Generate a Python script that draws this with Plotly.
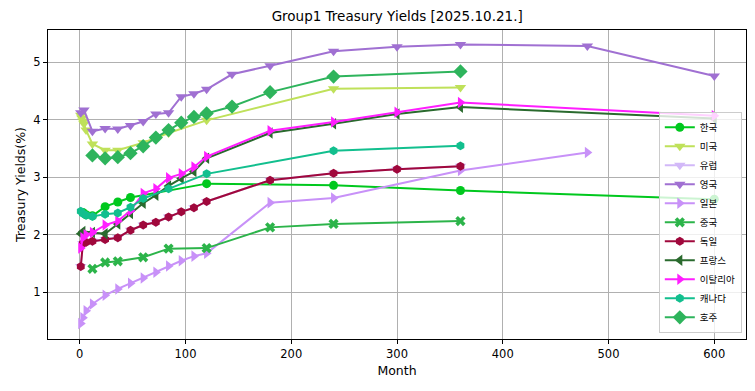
import plotly.graph_objects as go

# ---- data ----
kr_m = [3, 6, 12, 24, 36, 48, 120, 240, 360, 600]
kr_y = [2.39, 2.35, 2.33, 2.49, 2.57, 2.65, 2.89, 2.86, 2.77, 2.62]

us_m = [1, 2, 3, 4, 6, 12, 24, 36, 60, 84, 120, 240, 360]
us_y = [4.08, 4.03, 3.98, 3.93, 3.82, 3.58, 3.47, 3.47, 3.60, 3.77, 3.99, 4.54, 4.56]

de_m = [1, 3, 6, 12, 24, 36, 48, 60, 72, 84, 96, 108, 120, 180, 240, 300, 360]
de_y = [1.45, 1.85, 1.87, 1.89, 1.92, 1.95, 2.08, 2.17, 2.22, 2.31, 2.40, 2.47, 2.58, 2.95, 3.07, 3.14, 3.19]

eu_m = list(de_m)
eu_y = list(de_y)

uk_m = [1, 4, 12, 24, 36, 48, 60, 72, 84, 96, 108, 120, 144, 180, 240, 300, 360, 480, 600]
uk_y = [4.12, 4.17, 3.80, 3.85, 3.84, 3.90, 3.97, 4.10, 4.12, 4.40, 4.45, 4.53, 4.79, 4.94, 5.19, 5.27, 5.31, 5.28, 4.76]

jp_m = [1, 3, 6, 12, 24, 36, 48, 60, 72, 84, 96, 108, 120, 180, 240, 360, 480]
jp_y = [0.46, 0.56, 0.68, 0.80, 0.95, 1.06, 1.16, 1.25, 1.35, 1.46, 1.55, 1.63, 1.68, 2.56, 2.64, 3.12, 3.43]

cn_m = [12, 24, 36, 60, 84, 120, 180, 240, 360]
cn_y = [1.41, 1.52, 1.54, 1.61, 1.76, 1.77, 2.13, 2.19, 2.24]

fr_m = [1, 3, 12, 24, 36, 48, 60, 72, 84, 96, 108, 120, 180, 240, 300, 360, 600]
fr_y = [2.02, 2.06, 2.04, 2.02, 2.19, 2.37, 2.55, 2.69, 2.85, 2.98, 3.10, 3.33, 3.77, 3.93, 4.10, 4.22, 4.02]

it_m = [1, 3, 6, 12, 24, 36, 48, 60, 72, 84, 96, 108, 120, 180, 240, 300, 360, 600]
it_y = [1.77, 1.95, 2.00, 2.04, 2.17, 2.24, 2.42, 2.72, 2.80, 2.99, 3.06, 3.18, 3.36, 3.81, 3.96, 4.13, 4.30, 4.07]

ca_m = [1, 3, 6, 12, 24, 36, 48, 60, 84, 120, 240, 360]
ca_y = [2.41, 2.37, 2.34, 2.32, 2.36, 2.38, 2.48, 2.63, 2.80, 3.06, 3.46, 3.55]

au_m = [12, 24, 36, 48, 60, 72, 84, 96, 108, 120, 144, 180, 240, 360]
au_y = [3.38, 3.33, 3.35, 3.42, 3.54, 3.69, 3.82, 3.95, 4.05, 4.11, 4.23, 4.48, 4.75, 4.84]

series = [
    ("한국", kr_m, kr_y, "#00c81e", "circle", 9),
    ("미국", us_m, us_y, "#bfe15a", "triangle-down", 10),
    ("유럽", eu_m, eu_y, "#d2b8f8", "triangle-down", 10),
    ("영국", uk_m, uk_y, "#a070d2", "triangle-down", 10),
    ("일본", jp_m, jp_y, "#c891f8", "triangle-right", 10),
    ("중국", cn_m, cn_y, "#2cb44a", "x", 9),
    ("독일", de_m, de_y, "#a0083c", "hexagon", 9),
    ("프랑스", fr_m, fr_y, "#2a6a2e", "triangle-left", 10),
    ("이탈리아", it_m, it_y, "#ff1eff", "triangle-right", 10),
    ("캐나다", ca_m, ca_y, "#12bf8e", "hexagon", 9),
    ("호주", au_m, au_y, "#2eb45c", "diamond", 11),
]

fig = go.Figure()
for name, m, y, c, sym, sz in series:
    fig.add_trace(go.Scatter(
        x=m, y=y, name=name, mode="lines+markers",
        line=dict(color=c, width=2),
        marker=dict(color=c, symbol=sym, size=sz, line=dict(width=0)),
    ))

font = "DejaVu Sans, Noto Sans CJK KR, sans-serif"
# page body has an 8px margin, so the figure is 8px smaller each way
fig.update_layout(
    width=747, height=383,
    margin=dict(l=40, r=9, t=22, b=52, autoexpand=False),
    paper_bgcolor="white", plot_bgcolor="white",
    font=dict(family=font, size=11.5, color="black"),
    title=dict(text="Group1 Treasury Yields [2025.10.21.]", x=0.521, xanchor="center",
               y=0.978, yanchor="middle", font=dict(size=13.5, family=font)),
    showlegend=True,
    legend=dict(x=0.994, xanchor="right", y=0.02, yanchor="bottom",
                bgcolor="rgba(255,255,255,0.8)", bordercolor="#cccccc", borderwidth=1,
                font=dict(size=9.5, family="DejaVu Sans, Noto Sans CJK KR"),
                itemwidth=30, tracegroupgap=0),
)
fig.update_xaxes(range=[-30, 630], tickvals=[0, 100, 200, 300, 400, 500, 600],
                 showgrid=True, gridcolor="#b0b0b0", gridwidth=1, zeroline=False,
                 showline=True, mirror=True, linecolor="black", linewidth=1,
                 ticks="outside", ticklen=4, tickcolor="black", automargin=False,
                 title=dict(text="Month", font=dict(size=12.5), standoff=6))
fig.update_yaxes(range=[0.19, 5.56], tickvals=[1, 2, 3, 4, 5],
                 showgrid=True, gridcolor="#b0b0b0", gridwidth=1, zeroline=False,
                 showline=True, mirror=True, linecolor="black", linewidth=1,
                 ticks="outside", ticklen=4, tickcolor="black", automargin=False,
                 title=dict(text="Treasury Yields(%)", font=dict(size=12.5), standoff=4))

fig.write_html("out.html")
